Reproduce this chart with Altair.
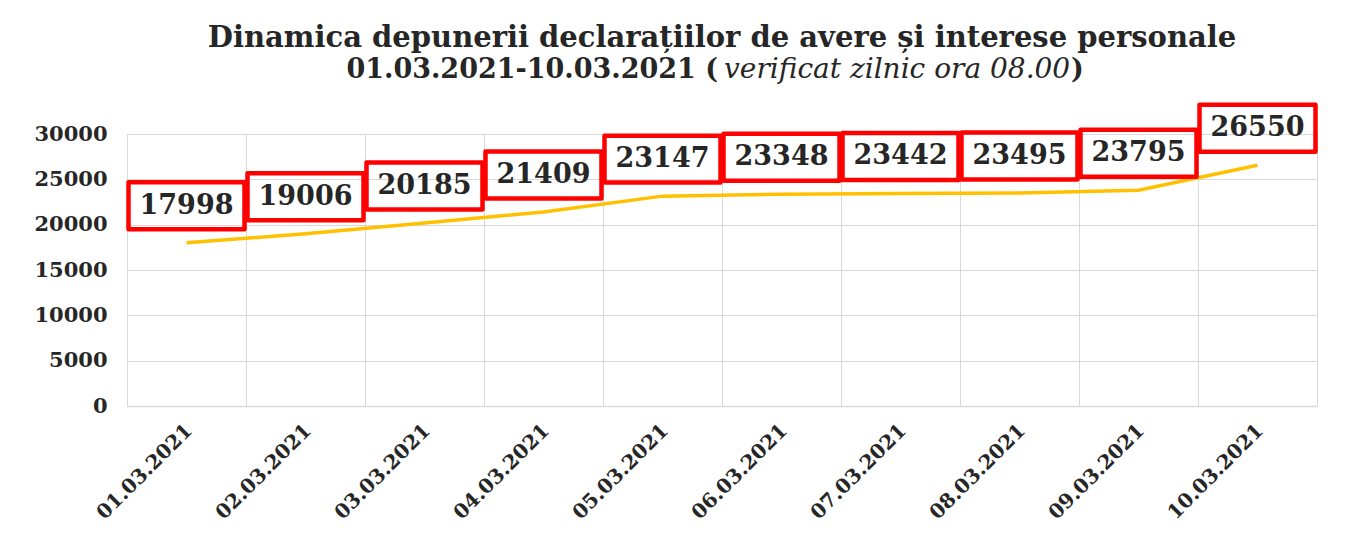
import altair as alt
import pandas as pd

# ---- data ----
dates = ["01.03.2021", "02.03.2021", "03.03.2021", "04.03.2021", "05.03.2021",
         "06.03.2021", "07.03.2021", "08.03.2021", "09.03.2021", "10.03.2021"]
values = [17998, 19006, 20185, 21409, 23147, 23348, 23442, 23495, 23795, 26550]
y_ticks = [0, 5000, 10000, 15000, 20000, 25000, 30000]

title_line1 = "Dinamica depunerii declarațiilor de avere și interese personale"
title_line2_bold = "01.03.2021-10.03.2021 ("
title_line2_italic = "verificat zilnic ora 08.00"
title_line2_close = ")"

FONT = "DejaVu Serif"
TXT = "#262626"
GRID = "#d9d9d9"

df = pd.DataFrame({"data": dates, "declaratii": values})

x = alt.X(
    "data:N", sort=dates, title=None,
    scale=alt.Scale(paddingInner=0, paddingOuter=0),
    axis=alt.Axis(labelAngle=-45, labelFont=FONT, labelFontSize=20,
                  labelFontWeight="bold", labelColor=TXT, labelPadding=14,
                  labelOffset=-5,
                  ticks=False, tickBand="extent", grid=True, gridColor=GRID,
                  gridWidth=1, domainColor=GRID, domainWidth=1.5),
)
y = alt.Y(
    "declaratii:Q", title=None,
    scale=alt.Scale(domain=[0, 30000], nice=False, zero=True),
    axis=alt.Axis(values=y_ticks, format="d", labelFont=FONT, labelFontSize=21,
                  labelFontWeight="bold", labelColor=TXT, labelPadding=20,
                  ticks=False, domain=False, gridColor=GRID, gridWidth=1,
                  minExtent=114),
)

base = alt.Chart(df)

line = base.mark_line(color="#FFC000", strokeWidth=3.5).encode(x=x, y=y)

BOX = "M-1,-0.405L1,-0.405L1,0.405L-1,0.405Z"
boxes = base.mark_point(
    shape=BOX, size=13456, filled=False, stroke="#FF0000", strokeWidth=4.5,
    strokeJoin="round", opacity=1, yOffset=-37,
).encode(x=x, y=y)

labels = base.mark_text(
    font=FONT, fontSize=27, fontWeight="bold", color=TXT, dy=-37,
    baseline="middle", align="center",
).encode(x=x, y=y, text=alt.Text("declaratii:Q", format="d"))

t2a = alt.Chart(pd.DataFrame({"t": [title_line2_bold]})).mark_text(
    font=FONT, fontSize=27, fontWeight="bold", color=TXT, align="right",
    baseline="alphabetic",
).encode(text="t:N", x=alt.value(591), y=alt.value(-56))

t2b = alt.Chart(pd.DataFrame({"t": [title_line2_italic]})).mark_text(
    font=FONT, fontSize=28, fontStyle="italic", fontWeight="normal", color=TXT,
    align="left", baseline="alphabetic",
).encode(text="t:N", x=alt.value(597), y=alt.value(-56))

t2c = alt.Chart(pd.DataFrame({"t": [title_line2_close]})).mark_text(
    font=FONT, fontSize=27, fontWeight="bold", color=TXT, align="left",
    baseline="alphabetic",
).encode(text="t:N", x=alt.value(944), y=alt.value(-56))

chart = alt.layer(line, boxes, labels, t2a, t2b, t2c).properties(
    width=1190, height=272,
    title=alt.TitleParams(title_line1, font=FONT, fontSize=29, fontWeight="bold",
                          color=TXT, anchor="middle", offset=-20,
                          baseline="alphabetic"),
    padding={"left": 5, "top": 16, "right": 5, "bottom": 5},
).configure_view(fill="#f3f3f3", stroke=None).configure(background="white")

chart.save("out.html", embed_options={"renderer": "svg", "actions": False})
